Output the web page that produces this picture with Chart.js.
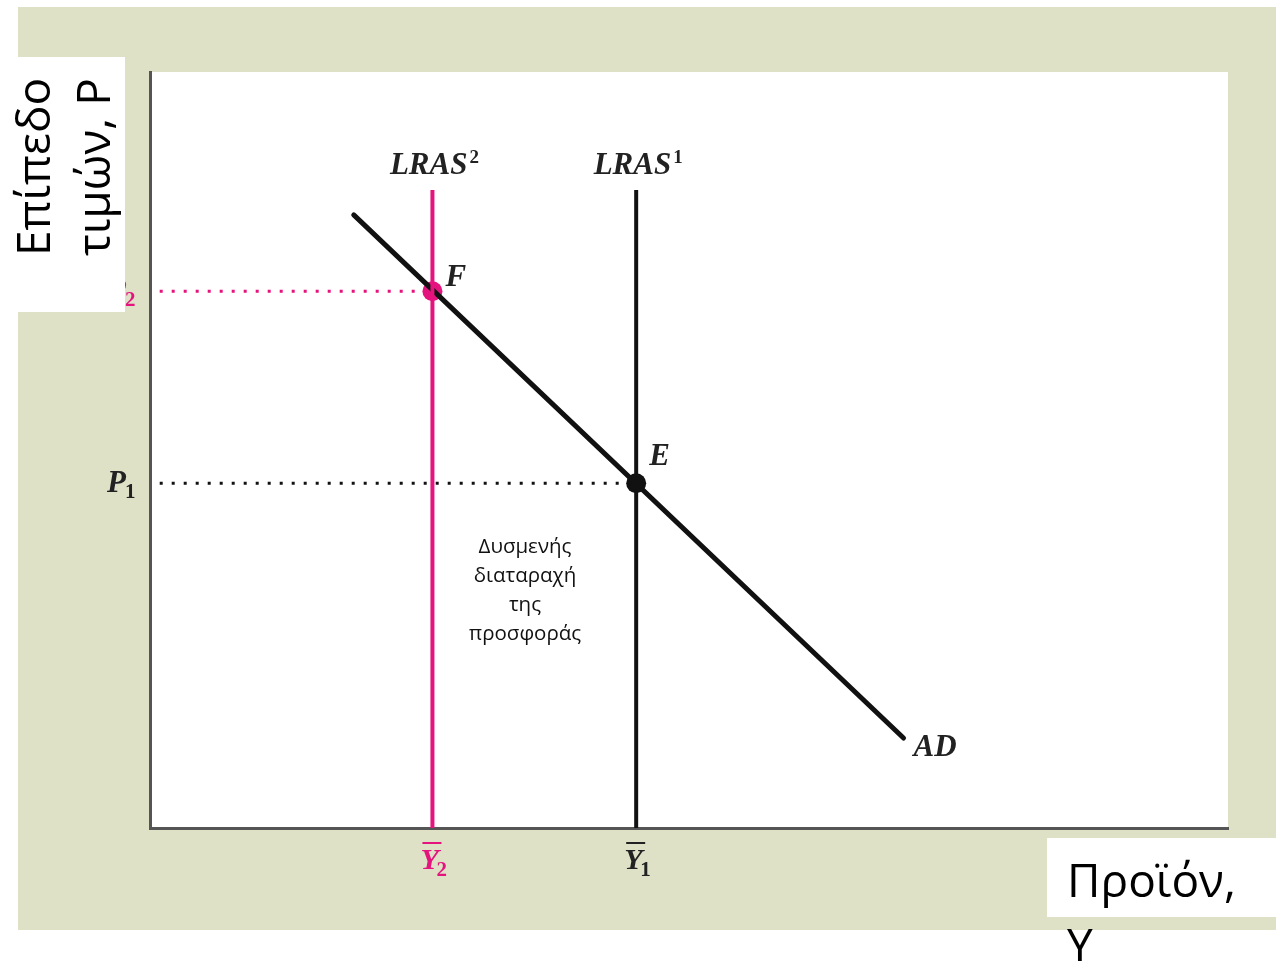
<!DOCTYPE html>
<html>
<head>
<meta charset="utf-8">
<script src="https://cdn.jsdelivr.net/npm/chart.js@4.4.0/dist/chart.umd.min.js"></script>
<style>
  body { margin: 0; background: #fff; }
  canvas { display: block; }
</style>
</head>
<body>
<canvas id="myChart" width="1276" height="961"></canvas>
<script>
// curve data (arbitrary units, x 0..100 / y 0..100)
const adX = [18.9, 69.9];
const adY = [81.1, 11.9];
const lrasX = [26.2, 45.1];          // Y2 (new), Y1 (old)
const lrasTop = 84.4;
const pointNames = ['F', 'E'];
const pointX = [26.2, 45.1];
const pointY = [71.0, 45.6];
const priceNames = ['P', 'P'];
const priceSubs = ['2', '1'];
const outputSubs = ['2', '1'];
const lrasNames = ['LRAS', 'LRAS'];
const lrasSups = ['2', '1'];
const noteLines = ['Δυσμενής', 'διαταραχή', 'της', 'προσφοράς'];

const PINK = '#e5137e';
const BLACK = '#111';
const BEIGE = '#dfe1c7';
const SERIF = 'italic bold ';
const SERIF_FAM = '"Liberation Serif", serif';

const ctxEl = document.getElementById('myChart');

// draws backgrounds, labels and the white axis-title boxes
const decorPlugin = {
    id: 'decor',
    beforeDraw(chart) {
        const { ctx, chartArea } = chart;
        ctx.save();
        ctx.fillStyle = '#fff';
        ctx.fillRect(0, 0, chart.width, chart.height);
        ctx.fillStyle = BEIGE;
        ctx.fillRect(18, 7, 1258, 923);
        ctx.fillStyle = '#fff';
        ctx.fillRect(chartArea.left, chartArea.top, chartArea.right - chartArea.left, chartArea.bottom - chartArea.top);
        ctx.restore();
    },
    afterDraw(chart) {
        const { ctx } = chart;
        const xs = chart.scales.x;
        const ys = chart.scales.y;
        ctx.save();

        // LRAS labels
        lrasX.forEach((v, i) => {
            const px = xs.getPixelForValue(v);
            ctx.font = SERIF + '31px ' + SERIF_FAM;
            const w = ctx.measureText(lrasNames[i]).width;
            ctx.font = 'bold 19px ' + SERIF_FAM;
            const ws = ctx.measureText(lrasSups[i]).width;
            const x0 = px - (w + ws + 2) / 2 + 2;
            ctx.fillStyle = '#222';
            ctx.textAlign = 'left';
            ctx.textBaseline = 'alphabetic';
            ctx.font = SERIF + '31px ' + SERIF_FAM;
            ctx.fillText(lrasNames[i], x0, 174);
            ctx.font = 'bold 19px ' + SERIF_FAM;
            ctx.fillText(lrasSups[i], x0 + w + 2, 163);
        });

        // point labels
        ctx.font = SERIF + '31px ' + SERIF_FAM;
        ctx.fillStyle = '#222';
        pointNames.forEach((n, i) => {
            const px = xs.getPixelForValue(pointX[i]);
            const py = ys.getPixelForValue(pointY[i]);
            ctx.fillText(n, px + 13, py - 5 - (i === 1 ? 13 : 0));
        });
        // AD label
        ctx.fillText('AD', xs.getPixelForValue(adX[1]) + 10, ys.getPixelForValue(adY[1]) + 18);

        // price labels
        pointY.forEach((v, i) => {
            const py = ys.getPixelForValue(v);
            const color = i === 0 ? PINK : '#222';
            ctx.fillStyle = color;
            ctx.font = SERIF + '31px ' + SERIF_FAM;
            ctx.textAlign = 'left';
            ctx.fillText(priceNames[i], 107, py + 9);
            ctx.font = 'bold 21px ' + SERIF_FAM;
            ctx.fillText(priceSubs[i], 125, py + 15);
        });

        // output labels (Y with bar)
        lrasX.forEach((v, i) => {
            const px = xs.getPixelForValue(v);
            const color = i === 0 ? PINK : '#222';
            ctx.fillStyle = color;
            ctx.strokeStyle = color;
            ctx.font = SERIF + '30px ' + SERIF_FAM;
            ctx.textAlign = 'left';
            ctx.fillText('Y', px - 12, 869);
            ctx.lineWidth = 2;
            ctx.beginPath();
            ctx.moveTo(px - 10, 843);
            ctx.lineTo(px + 9, 843);
            ctx.stroke();
            ctx.font = 'bold 21px ' + SERIF_FAM;
            ctx.fillText(outputSubs[i], px + 4, 876);
        });

        // note text
        ctx.fillStyle = '#111';
        ctx.font = '20.5px "Open Sans", sans-serif';
        ctx.textAlign = 'center';
        noteLines.forEach((t, i) => {
            ctx.fillText(t, 525, 553 + i * 29);
        });

        // white boxes for axis titles
        ctx.fillStyle = '#fff';
        ctx.fillRect(18, 57, 107, 255);
        ctx.fillRect(1047, 838, 229, 79);

        ctx.fillStyle = '#000';
        ctx.font = '46px "Open Sans", sans-serif';
        ctx.textAlign = 'left';
        ctx.fillText('Προϊόν,', 1067, 897);
        ctx.fillText('Y', 1067, 962);

        ctx.save();
        ctx.translate(50, 256);
        ctx.rotate(-Math.PI / 2);
        ctx.fillText('Επίπεδο', 0, 0);
        ctx.restore();
        ctx.save();
        ctx.translate(110, 256);
        ctx.rotate(-Math.PI / 2);
        ctx.fillText('τιμών, P', 0, 0);
        ctx.restore();

        ctx.restore();
    }
};

new Chart(ctxEl, {
    type: 'scatter',
    data: {
        datasets: [
            {
                label: 'P2',
                data: [{ x: 0.9, y: pointY[0] }, { x: pointX[0], y: pointY[0] }],
                showLine: true,
                borderColor: PINK,
                borderWidth: 3,
                borderDash: [3, 9],
                pointRadius: 0
            },
            {
                label: 'P1',
                data: [{ x: 0.9, y: pointY[1] }, { x: pointX[1], y: pointY[1] }],
                showLine: true,
                borderColor: BLACK,
                borderWidth: 3,
                borderDash: [3, 9],
                pointRadius: 0
            },
            {
                label: 'LRAS2',
                data: [{ x: lrasX[0], y: 0 }, { x: lrasX[0], y: lrasTop }],
                showLine: true,
                borderColor: PINK,
                borderWidth: 4,
                pointRadius: 0
            },
            {
                label: 'LRAS1',
                data: [{ x: lrasX[1], y: 0 }, { x: lrasX[1], y: lrasTop }],
                showLine: true,
                borderColor: BLACK,
                borderWidth: 4,
                pointRadius: 0
            },
            {
                label: 'AD',
                data: adX.map((x, i) => ({ x: x, y: adY[i] })),
                showLine: true,
                borderColor: BLACK,
                borderWidth: 5,
                borderCapStyle: 'round',
                pointRadius: 0
            },
            {
                label: 'F',
                data: [{ x: pointX[0], y: pointY[0] }],
                pointRadius: 10,
                pointBackgroundColor: PINK,
                pointBorderWidth: 0
            },
            {
                label: 'E',
                data: [{ x: pointX[1], y: pointY[1] }],
                pointRadius: 10,
                pointBackgroundColor: BLACK,
                pointBorderWidth: 0
            }
        ]
    },
    options: {
        responsive: false,
        animation: false,
        layout: { padding: { left: 150, right: 48, top: 72, bottom: 133 } },
        plugins: { legend: { display: false }, tooltip: { enabled: false } },
        scales: {
            x: {
                min: 0, max: 100,
                grid: { display: false, drawTicks: false },
                ticks: { display: false },
                border: { color: '#555', width: 3 },
                afterFit: s => { s.height = 0; }
            },
            y: {
                min: 0, max: 100,
                grid: { display: false, drawTicks: false },
                ticks: { display: false },
                border: { color: '#555', width: 3 },
                afterFit: s => { s.width = 0; }
            }
        }
    },
    plugins: [decorPlugin]
});
</script>
</body>
</html>
